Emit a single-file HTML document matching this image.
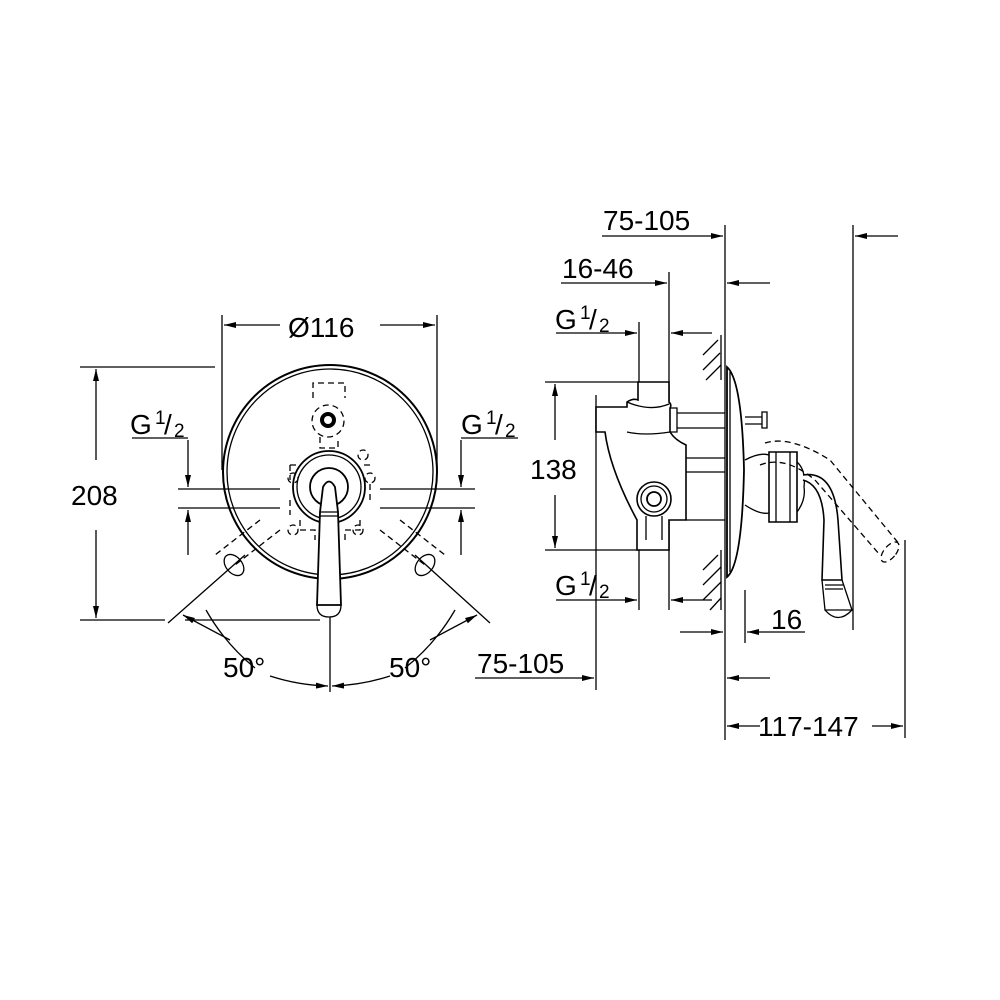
<!DOCTYPE html>
<html><head><meta charset="utf-8"><style>body{margin:0;background:#fff}svg{display:block}text{font-family:"Liberation Sans",sans-serif;fill:#000}</style></head>
<body>
<svg width="1000" height="1000" viewBox="0 0 1000 1000" xmlns="http://www.w3.org/2000/svg">
<defs>
<marker id="a" viewBox="0 0 12 6" refX="12" refY="3" markerWidth="13" markerHeight="6" orient="auto" markerUnits="userSpaceOnUse"><path d="M0,0L12,3L0,6z" fill="#000"/></marker>
</defs>
<g stroke="#000" stroke-width="1.3" fill="none">
<!-- LEFT VIEW -->
<circle cx="330" cy="472" r="107" stroke-width="2"/>
<circle cx="330" cy="472" r="103"/>
<g stroke-dasharray="6,4">
<path d="M313,398V383H345V398"/>
<circle cx="328" cy="421" r="16"/>
<path d="M320,437V448H338V437"/>
<path d="M290,465H300M290,465V480M290,500V515M300,520V530H315V540M345,540V530H360V520M370,500V480M370,465H360"/>
<path d="M260,520L215,555M280,530L235,565M400,520L445,555M380,530L425,565"/>
<circle cx="293" cy="478" r="5"/><circle cx="370" cy="478" r="5"/><circle cx="293" cy="530" r="5"/><circle cx="358" cy="530" r="5"/><circle cx="363" cy="455" r="5"/>
</g>
<circle cx="328" cy="420" r="6" stroke-width="4"/>
<circle cx="329" cy="487" r="36" stroke-width="1.8"/>
<circle cx="329" cy="487" r="32"/>
<circle cx="329" cy="487" r="19" stroke-width="1.8"/>
<ellipse cx="234" cy="565" rx="8" ry="12" transform="rotate(-40 234 565)"/>
<ellipse cx="425" cy="565" rx="8" ry="12" transform="rotate(40 425 565)"/>
<path d="M323,487Q329,476 335,487L338,512L341,605L317,605L320,512Z" fill="#fff" stroke-width="1.8"/>
<path d="M320,512H338M320,516H338M317,605Q317,617 329,617Q341,617 341,605"/>
<path d="M178,489H280M178,508H280M380,489H475M380,508H475"/>
<path d="M188,440V487" marker-end="url(#a)"/><path d="M188,555V510" marker-end="url(#a)"/>
<path d="M461,440V487" marker-end="url(#a)"/><path d="M461,555V510" marker-end="url(#a)"/>
<path d="M132,438H188M461,438H518"/>
<path d="M80,367H215M80,620H165"/>
<path d="M96,460V369" marker-end="url(#a)"/><path d="M96,530V618" marker-end="url(#a)"/>
<path d="M222,315V470M437,315V470"/>
<path d="M280,325H224" marker-end="url(#a)"/><path d="M380,325H435" marker-end="url(#a)"/>
<path d="M330,617V692M185,620H320"/>
<path d="M245,555L168,623M415,555L490,623"/>
<path d="M206,610A205 205 0 0 0 255,668"/>
<path d="M270,676A205 205 0 0 0 328,686" marker-end="url(#a)"/>
<path d="M455,610A205 205 0 0 1 405,668"/>
<path d="M390,676A205 205 0 0 1 332,686" marker-end="url(#a)"/>
<path d="M230,640L183,615" marker-end="url(#a)"/>
<path d="M430,640L477,615" marker-end="url(#a)"/>

<!-- RIGHT VIEW -->
<path d="M725,225V740M853,225V630M905,540V738M669,272V610M639,322V610M596,395V690M745,590V643"/>
<path d="M602,236H723" marker-end="url(#a)"/><path d="M898,236H855" marker-end="url(#a)"/>
<path d="M561,283H667" marker-end="url(#a)"/><path d="M770,283H727" marker-end="url(#a)"/>
<path d="M556,333H637" marker-end="url(#a)"/><path d="M712,333H671" marker-end="url(#a)"/>
<path d="M556,600H637" marker-end="url(#a)"/><path d="M712,600H671" marker-end="url(#a)"/>
<path d="M545,382H640M545,550H640"/>
<path d="M555,440V384" marker-end="url(#a)"/><path d="M555,495V548" marker-end="url(#a)"/>
<path d="M680,632H723" marker-end="url(#a)"/><path d="M805,632H747" marker-end="url(#a)"/>
<path d="M475,678H594" marker-end="url(#a)"/><path d="M770,678H727" marker-end="url(#a)"/>
<path d="M760,726H727" marker-end="url(#a)"/><path d="M872,726H903" marker-end="url(#a)"/>
<path d="M721,335V380M721,550V610"/>
<path d="M703,355L718,340M703,370L720,353M706,380L721,365M703,570L718,555M703,585L721,567M703,600L721,582M710,610L721,598"/>
<path d="M727,367Q742,380 744,470Q742,565 727,577Z" fill="#fff" stroke-width="1.8"/>
<path d="M730,372V572"/>
<path d="M638,382H669V402Q672,405 670,408V432Q675,440 686,445V520H669V550H637V520Q610,470 605,432H596V407H627V402Q633,398 638,400Z" fill="#fff" stroke-width="1.6"/>
<path d="M627,402Q650,412 669,404M627,432Q645,436 670,432M686,458H725M686,520H725M686,472H725"/>
<path d="M670,408H677V432H670M677,413H725M677,428H725"/>
<circle cx="654" cy="499" r="17" fill="#fff" stroke-width="1.6"/><circle cx="654" cy="499" r="13"/><circle cx="654" cy="499" r="7" stroke-width="1.8"/>
<path d="M646,516V540M662,516V540"/>
<path d="M745,417H762M745,424H762M762,412V428H767V412Z"/>
<path d="M745,460Q760,452 769,455M745,505Q760,515 769,513"/>
<path d="M769,452H797V522H769Z" fill="#fff" stroke-width="1.6"/>
<path d="M776,452V522M790,452V522M797,462Q806,470 804,487Q806,500 797,512"/>
<path d="M803,480Q822,485 824,520L822,580L842,580L838,520Q834,470 803,475" fill="#fff" stroke-width="1.6"/>
<path d="M822,580L825,610L852,610L842,580M825,585H843M825,589H843"/>
<path d="M825,610Q838,625 852,610"/>
<g stroke-dasharray="6,4">
<path d="M765,443Q790,435 830,460L900,545M760,465Q785,455 815,480L880,555"/>
<ellipse cx="890" cy="552" rx="6" ry="12" transform="rotate(40 890 552)"/>
</g>
</g>
<g font-size="28">
<text x="71" y="505">208</text>
<text x="288" y="337">Ø116</text>
<text x="130" y="434">G</text><text x="155" y="424" font-size="19">1</text><text x="164" y="434">/</text><text x="174" y="437" font-size="19">2</text>
<text x="461" y="434">G</text><text x="486" y="424" font-size="19">1</text><text x="495" y="434">/</text><text x="505" y="437" font-size="19">2</text>
<text x="223" y="677">50°</text><text x="389" y="677">50°</text>
<text x="603" y="230">75-105</text>
<text x="562" y="278">16-46</text>
<text x="555" y="329">G</text><text x="580" y="319" font-size="19">1</text><text x="589" y="329">/</text><text x="599" y="332" font-size="19">2</text>
<text x="555" y="595">G</text><text x="580" y="585" font-size="19">1</text><text x="589" y="595">/</text><text x="599" y="598" font-size="19">2</text>
<text x="530" y="479">138</text>
<text x="771" y="629">16</text>
<text x="477" y="673">75-105</text>
<text x="758" y="736">117-147</text>
</g>
</svg>
</body></html>
